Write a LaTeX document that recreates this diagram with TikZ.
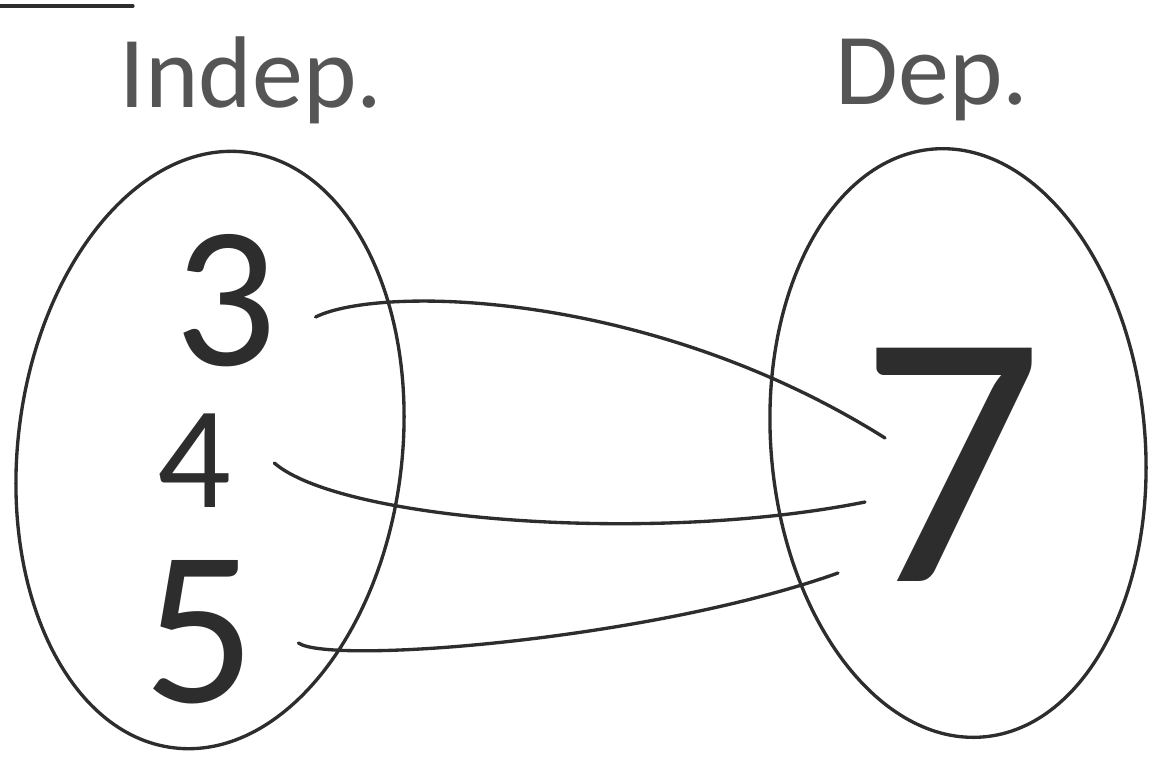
\documentclass[tikz,border=0pt]{standalone}
\usepackage{fontspec}
\setmainfont{Carlito}
\definecolor{penline}{RGB}{45,45,45}
\definecolor{printgray}{RGB}{85,85,85}

\begin{document}
\begin{tikzpicture}[x=0.02cm,y=-0.02cm,
      pen/.style={draw=penline,line width=1.9pt,line cap=round},
      heading/.style={text=printgray,font=\fontsize{58}{64}\selectfont,inner sep=0pt},
      digit/.style={text=penline,inner sep=0pt}]
      \useasboundingbox (0,0) rectangle (1157,769);
      \draw[pen] (0,6) -- (133,6);
      \node[heading] (indep) at (251,80) {Indep.};
      \node[heading] (dep) at (932,80) {Dep.};
      % the two sets
      \draw[pen,rotate around={-7:(210,450)}] (210,450) ellipse [x radius=192,y radius=300];
      \draw[pen,rotate around={5:(958,443)}] (958,443) ellipse [x radius=187,y radius=295];
      \node[digit,font=\fontsize{115}{120}\selectfont] (three) at (226,301) {3};
      \node[digit,font=\fontsize{83}{90}\selectfont] (four) at (194,461) {4};
      \node[digit,font=\fontsize{126}{130}\selectfont] (five) at (200,632) {5};
      \node[digit,font=\fontsize{207}{210}\selectfont] (seven) at (952,465) {7};
      \coordinate (tip3) at ([shift={(-67,-27)}]seven.center);
      \coordinate (tip4) at ([shift={(-87,37)}]seven.center);
      \coordinate (tip5) at ([shift={(-114,108)}]seven.center);
      % arrows of the mapping, drawn without heads
      \draw[pen] ([shift={(38,16)}]three.east) .. controls (380,285) and (650,290) .. (tip3);
      \draw[pen] ([shift={(43,2)}]four.east) .. controls (340,520) and (650,545) .. (tip4);
      \draw[pen] ([shift={(42,11)}]five.east) .. controls (330,665) and (650,640) .. (tip5);
\end{tikzpicture}
\end{document}
